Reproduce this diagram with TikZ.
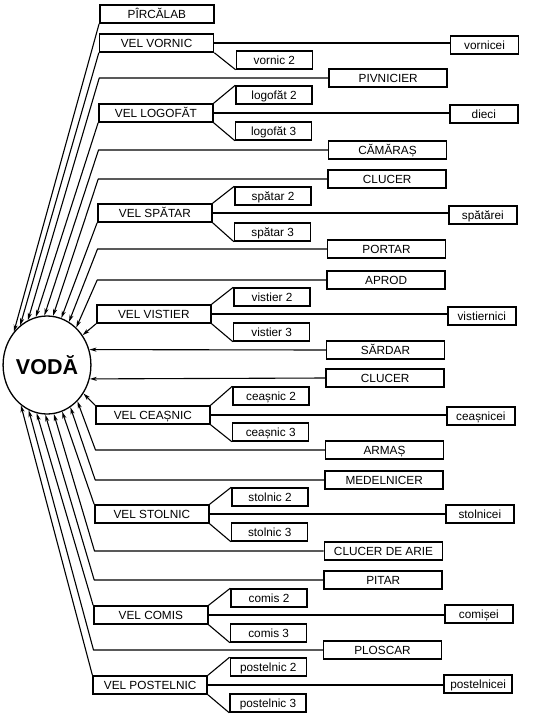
\documentclass[tikz,border=0pt]{standalone}
\usepackage{fontspec}
\setmainfont{Liberation Sans}
\usetikzlibrary{arrows.meta,shapes.geometric}
\begin{document}
\begin{tikzpicture}[x=1pt,y=-1pt,
  box/.style={draw, line width=1.5pt, minimum height=18pt, inner sep=0pt,
    text height=8.6pt, text depth=0pt, font=\fontsize{11.8}{13}\selectfont},
  Lbox/.style={box, minimum width=114pt},
  Sbox/.style={box, minimum width=76pt},
  Mbox/.style={box, minimum width=118pt},
  Rbox/.style={box, minimum width=68pt},
  conn/.style={line width=1.1pt, line join=round},
  arr/.style={conn, -{Stealth[length=7pt,width=4pt,inset=2pt]}},
]
\useasboundingbox (0,0) rectangle (547,716);
\fill[white] (0,0) rectangle (547,716);

\node[draw, ellipse, line width=1.3pt, minimum width=86pt, minimum height=98pt,
  inner sep=0pt, font=\fontsize{21.5}{24}\selectfont\bfseries] (vo) at (47,365) {VODĂ};

\begin{scope}[xslant=0.01]
% left column
\node[Lbox] (pirc)  at (157,14)  {PÎRCĂLAB};
\node[Lbox] (vorn)  at (157,43)  {VEL VORNIC};
\node[Lbox] (logo)  at (157,113) {VEL LOGOFĂT};
\node[Lbox] (spat)  at (157,213) {VEL SPĂTAR};
\node[Lbox] (vist)  at (157,314) {VEL VISTIER};
\node[Lbox] (ceas)  at (157,415) {VEL CEAȘNIC};
\node[Lbox] (stol)  at (157,514) {VEL STOLNIC};
\node[Lbox] (comis) at (157,615) {VEL COMIS};
\node[Lbox] (post)  at (157,685) {VEL POSTELNIC};
% sub column
\node[Sbox] (vorn2)  at (275,60)  {vornic 2};
\node[Sbox] (logo2)  at (275,95)  {logofăt 2};
\node[Sbox] (logo3)  at (275,131) {logofăt 3};
\node[Sbox] (spat2)  at (275,196) {spătar 2};
\node[Sbox] (spat3)  at (275,232) {spătar 3};
\node[Sbox] (vist2)  at (275,297) {vistier 2};
\node[Sbox] (vist3)  at (275,332) {vistier 3};
\node[Sbox] (ceas2)  at (275,396) {ceașnic 2};
\node[Sbox] (ceas3)  at (275,432) {ceașnic 3};
\node[Sbox] (stol2)  at (275,497) {stolnic 2};
\node[Sbox] (stol3)  at (275,532) {stolnic 3};
\node[Sbox] (comis2) at (275,598) {comis 2};
\node[Sbox] (comis3) at (275,633) {comis 3};
\node[Sbox] (post2)  at (275,667) {postelnic 2};
\node[Sbox] (post3)  at (275,703) {postelnic 3};
% middle column
\node[Mbox] (piv)   at (389,78)  {PIVNICIER};
\node[Mbox] (cam)   at (389,150) {CĂMĂRAȘ};
\node[Mbox] (cluA)  at (389,179) {CLUCER};
\node[Mbox] (port)  at (389,249) {PORTAR};
\node[Mbox] (aprod) at (389,280) {APROD};
\node[Mbox] (sard)  at (389,350) {SĂRDAR};
\node[Mbox] (cluB)  at (389,378) {CLUCER};
\node[Mbox] (armas) at (389,450) {ARMAȘ};
\node[Mbox] (medel) at (389,480) {MEDELNICER};
\node[Mbox] (clda)  at (389,551) {CLUCER DE ARIE};
\node[Mbox] (pitar) at (389,580) {PITAR};
\node[Mbox] (plosc) at (389,650) {PLOSCAR};
% right column
\node[Rbox] (vornR)  at (485,45)  {vornicei};
\node[Rbox] (logoR)  at (485,114) {dieci};
\node[Rbox] (spatR)  at (485,215) {spătărei};
\node[Rbox] (vistR)  at (485,316) {vistiernici};
\node[Rbox] (ceasR)  at (485,416) {ceașnicei};
\node[Rbox] (stolR)  at (485,514) {stolnicei};
\node[Rbox] (comisR) at (485,614) {comișei};
\node[Rbox] (postR)  at (485,684) {postelnicei};
% corners
\coordinate (cpiv)   at (100,78);
\coordinate (ccam)   at (100,150);
\coordinate (ccluA)  at (100,179);
\coordinate (cport)  at (100,249);
\coordinate (caprod) at (100,280);
\coordinate (carmas) at (100,450);
\coordinate (cmedel) at (100,480);
\coordinate (cclda)  at (100,551);
\coordinate (cpitar) at (100,580);
\coordinate (cplosc) at (100,650);
\end{scope}

% VEL branches
\draw[conn] (vorn.east) -- (vorn.east -| vornR.west);
\draw[conn] (vorn.south east) -- (vorn2.south west);
\foreach \v in {logo,spat,vist,ceas,stol,comis,post}{
  \draw[conn] (\v.east) -- (\v.east -| \v R.west);
  \draw[conn] (\v.north east) -- (\v 2.north west);
  \draw[conn] (\v.south east) -- (\v 3.south west);
}

% upper arrows
\draw[arr] (pirc.south west) -- (vo.135);
\draw[arr] (vorn.south west) -- (vo.124);
\draw[arr] (piv.west) -- (cpiv) -- (vo.113);
\draw[arr] (logo.south west) -- (vo.103);
\draw[arr] (cam.west) -- (ccam) -- (vo.93);
\draw[arr] (cluA.west) -- (ccluA) -- (vo.83);
\draw[arr] (spat.south west) -- (vo.73);
\draw[arr] (port.west) -- (cport) -- (vo.63);
\draw[arr] (aprod.west) -- (caprod) -- (vo.52);
\draw[arr] (vist.south west) -- (vo.40);
% middle arrows
\draw[arr] (sard.west) -- (vo.20);
\draw[arr] (cluB.west) -- (vo.-18);
% lower arrows
\draw[arr] (ceas.north west) -- (vo.-38);
\draw[arr] (armas.west) -- (carmas) -- (vo.-50);
\draw[arr] (medel.west) -- (cmedel) -- (vo.-61);
\draw[arr] (stol.north west) -- (vo.-72);
\draw[arr] (clda.west) -- (cclda) -- (vo.-82);
\draw[arr] (pitar.west) -- (cpitar) -- (vo.-92);
\draw[arr] (comis.north west) -- (vo.-102);
\draw[arr] (plosc.west) -- (cplosc) -- (vo.-112);
\draw[arr] (post.north west) -- (vo.-123);
\end{tikzpicture}
\end{document}
